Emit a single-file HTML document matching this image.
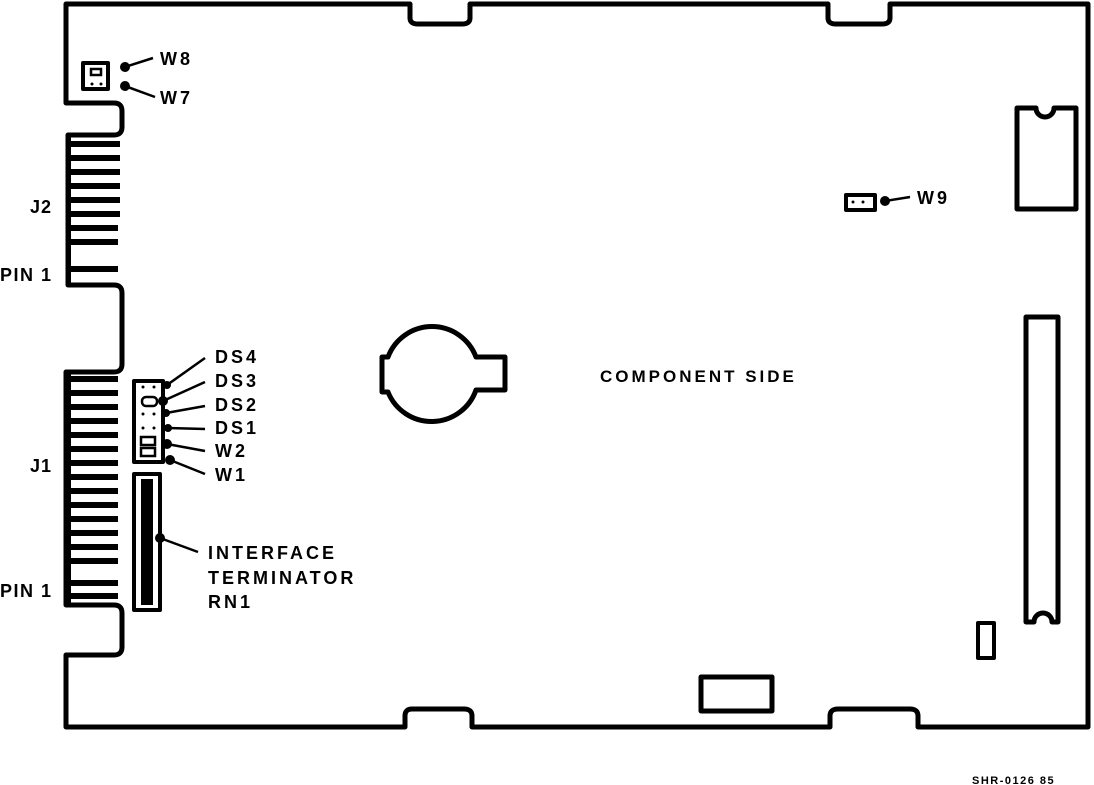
<!DOCTYPE html>
<html><head><style>
body{margin:0;background:#fff;width:1094px;height:785px;overflow:hidden}
svg{display:block}
text{font-family:"Liberation Sans",sans-serif;font-weight:bold;fill:#000}
</style></head><body>
<svg width="1094" height="785" viewBox="0 0 1094 785">
<g fill="none" stroke="#000" stroke-width="5" stroke-linejoin="round">
<path d="M66 4 H410 V18 Q410 24 418 24 H462 Q470 24 470 18 V4 H828 V18 Q828 24 836 24 H882 Q890 24 890 18 V4 H1088 V727 H918 V716 Q918 709 910 709 H838 Q830 709 830 716 V727 H472 V716 Q472 709 464 709 H412 Q405 709 405 716 V727 H66 V655 H114 Q122 655 122 647 V613 Q122 605 114 605 H66 V372 H114 Q122 372 122 364 V293 Q122 285 114 285 H68 V135 H114 Q122 135 122 127 V111 Q122 103 114 103 H66 Z"/>
<rect x="83" y="63" width="25" height="26" stroke-width="4"/>
<rect x="134" y="381" width="29" height="81" stroke-width="4"/>
<rect x="134" y="474" width="26" height="136" stroke-width="4"/>
<path d="M1017 108 H1036 A9 9 0 0 0 1054 108 H1076 V209 H1017 Z"/>
<path d="M1026 317 H1058 V622 H1052 A9 9 0 0 0 1034 622 H1026 Z"/>
<rect x="978" y="623" width="16" height="35" stroke-width="4"/>
<rect x="701" y="677" width="71" height="34" stroke-width="5"/>
<rect x="846" y="195" width="29" height="15" stroke-width="4"/>
<path d="M382 357 H388 A47 47 0 0 1 476 357 H505 V390 H476 A47 47 0 0 1 388 392 H382 Z"/>
</g>
<g fill="#000">
<rect x="141" y="479" width="12" height="126"/>
<g>
<rect x="68" y="141" width="52" height="6"/><rect x="68" y="155" width="52" height="6"/>
<rect x="68" y="169" width="52" height="6"/><rect x="68" y="183" width="52" height="6"/>
<rect x="68" y="197" width="52" height="6"/><rect x="68" y="211" width="52" height="6"/>
<rect x="68" y="225" width="50" height="6"/><rect x="68" y="239" width="50" height="6"/>
<rect x="68" y="266" width="50" height="6"/>
</g>
<g>
<rect x="68" y="376" width="50" height="6"/><rect x="68" y="390" width="50" height="6"/>
<rect x="68" y="404" width="50" height="6"/><rect x="68" y="418" width="50" height="6"/>
<rect x="68" y="432" width="50" height="6"/><rect x="68" y="446" width="50" height="6"/>
<rect x="68" y="460" width="50" height="6"/><rect x="68" y="474" width="50" height="6"/>
<rect x="68" y="488" width="50" height="6"/><rect x="68" y="502" width="50" height="6"/>
<rect x="68" y="516" width="50" height="6"/><rect x="68" y="530" width="50" height="6"/>
<rect x="68" y="544" width="50" height="6"/><rect x="68" y="558" width="50" height="6"/>
<rect x="68" y="580" width="50" height="6"/><rect x="68" y="593" width="50" height="6"/>
</g>
<rect x="66" y="135" width="5" height="150"/>
<rect x="66" y="372" width="5" height="233"/>
<circle cx="125" cy="67" r="5"/><circle cx="125" cy="86" r="5"/>
<circle cx="167" cy="385" r="4"/><circle cx="163" cy="401" r="5"/><circle cx="166" cy="413" r="4"/>
<circle cx="168" cy="428" r="4"/><circle cx="167" cy="444" r="5"/><circle cx="170" cy="460" r="5"/>
<circle cx="160" cy="538" r="5"/><circle cx="885" cy="201" r="5"/>
</g>
<g stroke="#000" stroke-width="2.5" fill="none">
<line x1="125" y1="67" x2="153" y2="58"/><line x1="125" y1="86" x2="155" y2="97"/>
<line x1="167" y1="385" x2="205" y2="358"/><line x1="163" y1="401" x2="205" y2="382"/>
<line x1="166" y1="413" x2="205" y2="406"/><line x1="168" y1="428" x2="205" y2="429"/>
<line x1="167" y1="444" x2="205" y2="451"/><line x1="170" y1="460" x2="205" y2="474"/>
<line x1="160" y1="538" x2="198" y2="552"/><line x1="885" y1="201" x2="910" y2="197"/>
<rect x="91" y="69" width="10" height="6"/>
<rect x="142" y="397" width="15" height="9" rx="4"/>
<rect x="141" y="437" width="14" height="8"/><rect x="141" y="448" width="14" height="8"/>
</g>
<g fill="#000">
<circle cx="92" cy="84" r="1.5"/><circle cx="101" cy="84" r="1.5"/>
<circle cx="143" cy="387" r="1.5"/><circle cx="154" cy="387" r="1.5"/>
<circle cx="143" cy="414" r="1.5"/><circle cx="154" cy="414" r="1.5"/>
<circle cx="143" cy="428" r="1.5"/><circle cx="154" cy="428" r="1.5"/>
<circle cx="853" cy="202" r="1.5"/><circle cx="863" cy="202" r="1.5"/>
</g>
<g font-size="18" letter-spacing="3">
<text x="160" y="65">W8</text><text x="160" y="104">W7</text>
<text x="30" y="213" letter-spacing="1">J2</text><text x="0" y="281" letter-spacing="1.5">PIN 1</text>
<text x="215" y="363">DS4</text><text x="215" y="387">DS3</text>
<text x="215" y="411">DS2</text><text x="215" y="434">DS1</text>
<text x="215" y="457">W2</text><text x="215" y="481">W1</text>
<text x="30" y="472" letter-spacing="1">J1</text><text x="0" y="597" letter-spacing="1.5">PIN 1</text>
<text x="208" y="559">INTERFACE</text><text x="208" y="584">TERMINATOR</text><text x="208" y="608">RN1</text>
<text x="917" y="204">W9</text>
<text x="600" y="382" font-size="17">COMPONENT SIDE</text>
<text x="972" y="784" font-size="11" letter-spacing="1.5">SHR-0126 85</text>
</g>
</svg>
</body></html>
